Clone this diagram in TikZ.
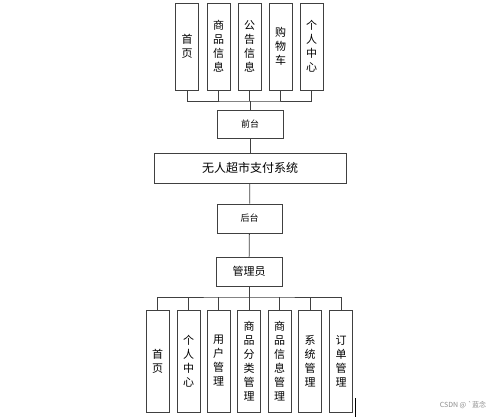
\documentclass[tikz,border=0pt]{standalone}
\usepackage{fontspec}
\newfontfamily\cjk{Noto Sans CJK SC}
\usepackage{tikz}

\begin{document}
\begin{tikzpicture}[
  x=1pt, y=-1pt,
  every node/.style={align=center, font=\cjk\fontsize{11}{14}\selectfont, inner sep=0pt},
  box/.style={draw=black!75, line width=0.8pt},
  column/.style={box, minimum width=23pt, minimum height=87pt},
  tallcolumn/.style={box, minimum width=23pt, minimum height=102pt},
  flow/.style={draw=black!75, line width=0.8pt}]

\useasboundingbox (0,0) rectangle (500,417);

% Front end modules on top
\node[column] (frontHome)   at (187,46.5)   {首\\页};
\node[column] (frontGoods)  at (218.5,46.5) {商\\品\\信\\息};
\node[column] (frontNotice) at (249.5,46.5) {公\\告\\信\\息};
\node[column] (frontCart)   at (280.5,46.5) {购\\物\\车};
\node[column] (frontUser)   at (311.5,46.5) {个\\人\\中\\心};

% Main chain in the middle
\node[box, minimum width=66pt, minimum height=28pt, font=\cjk\fontsize{9}{11}\selectfont] (front) at (250,124) {前台};
\node[box, minimum width=192pt, minimum height=30pt, font=\cjk\fontsize{12}{14}\selectfont] (system) at (250,168) {无人超市支付系统};
\node[box, minimum width=65pt, minimum height=29pt, font=\cjk\fontsize{9}{11}\selectfont] (back) at (249.5,218.5) {后台};
\node[box, minimum width=66pt, minimum height=29pt] (admin) at (249,271.5) {管理员};

% Back end modules at the bottom
\node[tallcolumn] (adminHome)      at (157.5,361) {首\\页};
\node[tallcolumn] (adminUser)      at (188.5,361) {个\\人\\中\\心};
\node[tallcolumn] (userManage)     at (218.5,361) {用\\户\\管\\理};
\node[tallcolumn] (categoryManage) at (249,361)   {商\\品\\分\\类\\管\\理};
\node[tallcolumn] (goodsManage)    at (279.5,361) {商\\品\\信\\息\\管\\理};
\node[tallcolumn] (systemManage)   at (310,361)   {系\\统\\管\\理};
\node[tallcolumn] (orderManage)    at (341,361)   {订\\单\\管\\理};

% Bus lines
\coordinate (topBus) at (250,101);
\coordinate (bottomBus) at (249,297);

\draw[flow] (frontHome.south) |- (topBus) -| (frontUser.south);
\draw[flow] (frontGoods.south) -- (frontGoods.south |- topBus);
\draw[flow] (frontNotice.south) -- (frontNotice.south |- topBus);
\draw[flow] (frontCart.south) -- (frontCart.south |- topBus);
\draw[flow] (topBus) -- (front.north);

\draw[flow] (front) -- (system);
\draw[flow] (system) -- (back);
\draw[flow] (back) -- (admin);

\draw[flow] (admin.south) -- (bottomBus);
\draw[flow] (adminHome.north) |- (bottomBus) -| (orderManage.north);
\draw[flow] (adminUser.north) -- (adminUser.north |- bottomBus);
\draw[flow] (userManage.north) -- (userManage.north |- bottomBus);
\draw[flow] (categoryManage.north) -- (categoryManage.north |- bottomBus);
\draw[flow] (goodsManage.north) -- (goodsManage.north |- bottomBus);
\draw[flow] (systemManage.north) -- (systemManage.north |- bottomBus);

% Cursor mark and watermark
\draw[line width=1.3pt] (355.5,398) -- (355.5,417);
\node[font=\cjk\fontsize{7}{8}\selectfont, text=black!45] (watermark) at (463,405) {CSDN @ `蓝念};

\end{tikzpicture}
\end{document}
